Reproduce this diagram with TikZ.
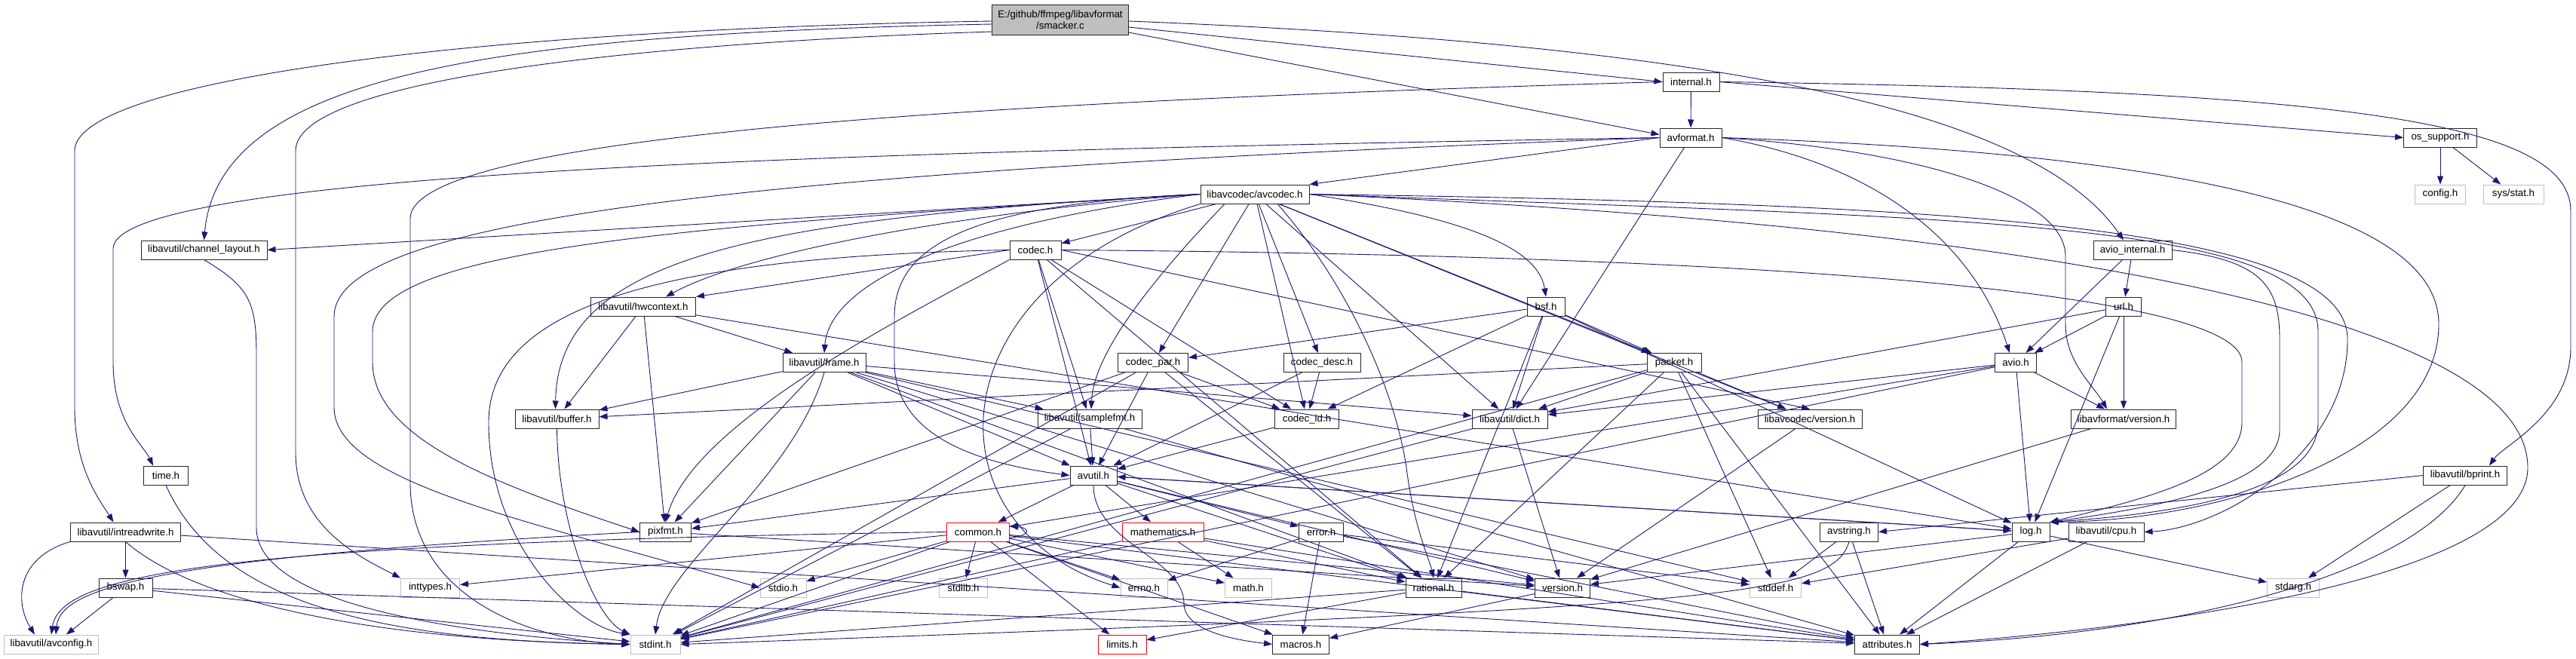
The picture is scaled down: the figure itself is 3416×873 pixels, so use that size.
\documentclass[tikz,border=0pt]{standalone}
\usepackage{fontspec}
\setmainfont{Liberation Sans}
\usepackage{tikz}
\usetikzlibrary{arrows.meta}
\usepackage{xcolor}
\definecolor{incEdge}{RGB}{25, 25, 112}
\definecolor{sysBox}{RGB}{191, 191, 191}
\definecolor{cutBox}{RGB}{255, 0, 0}

\begin{document}
\begin{tikzpicture}[
  x=1pt, y=-1pt,
  box/.style={draw, line width=1pt, minimum height=25pt, inner sep=0pt, font=\fontsize{13.3}{15}\selectfont},
  hdr/.style={box, draw=black!85},
  sys/.style={box, draw=sysBox},
  cut/.style={box, draw=cutBox},
  root/.style={box, draw=black!85, fill=sysBox, minimum height=40pt, align=center},
  inc/.style={->, line width=0.9pt, incEdge},
  >={Triangle[length=11pt, width=8pt]}
]
  \useasboundingbox[fill=white] (0,0) rectangle (3416,873);

  \node[root, minimum width=181pt] (smacker) at (1406,26) {E:/github/ffmpeg/libavformat\\/smacker.c};
  \node[hdr, minimum width=75pt] (internal) at (2242.5,108.5) {internal.h};
  \node[hdr, minimum width=82pt] (avformat) at (2242,182.5) {avformat.h};
  \node[hdr, minimum width=97pt] (ossupport) at (3236,182.5) {os\_support.h};
  \node[hdr, minimum width=144pt] (avcodec) at (1664,257.5) {libavcodec/avcodec.h};
  \node[sys, minimum width=67pt] (config) at (3236,257.5) {config.h};
  \node[sys, minimum width=80pt] (sysstat) at (3333,257.5) {sys/stat.h};
  \node[hdr, minimum width=167pt] (chlayout) at (270.5,331.5) {libavutil/channel\_layout.h};
  \node[hdr, minimum width=68pt] (codec) at (1373,331.5) {codec.h};
  \node[hdr, minimum width=104pt] (aviointernal) at (2828,331.5) {avio\_internal.h};
  \node[hdr, minimum width=139pt] (hwctx) at (853,406.5) {libavutil/hwcontext.h};
  \node[hdr, minimum width=50pt] (bsf) at (2050,406.5) {bsf.h};
  \node[hdr, minimum width=47pt] (url) at (2816,406.5) {url.h};
  \node[hdr, minimum width=110pt] (frame) at (1093,481) {libavutil/frame.h};
  \node[hdr, minimum width=93pt] (codecpar) at (1529,481) {codec\_par.h};
  \node[hdr, minimum width=102pt] (codecdesc) at (1753,481) {codec\_desc.h};
  \node[hdr, minimum width=72pt] (packet) at (2220,481) {packet.h};
  \node[hdr, minimum width=55pt] (avio) at (2673,481) {avio.h};
  \node[hdr, minimum width=111pt] (buffer) at (738.5,555.5) {libavutil/buffer.h};
  \node[hdr, minimum width=138pt] (samplefmt) at (1445,555.5) {libavutil/samplefmt.h};
  \node[hdr, minimum width=85pt] (codecid) at (1733,555.5) {codec\_id.h};
  \node[hdr, minimum width=100pt] (dict) at (2002,555.5) {libavutil/dict.h};
  \node[hdr, minimum width=138pt] (lavcversion) at (2400,555.5) {libavcodec/version.h};
  \node[hdr, minimum width=139pt] (lavfversion) at (2816,555.5) {libavformat/version.h};
  \node[hdr, minimum width=59pt] (timeh) at (220,630.5) {time.h};
  \node[hdr, minimum width=62pt] (avutil) at (1450,630.5) {avutil.h};
  \node[hdr, minimum width=111pt] (bprint) at (3269,630.5) {libavutil/bprint.h};
  \node[hdr, minimum width=146pt] (intrw) at (166.5,705.5) {libavutil/intreadwrite.h};
  \node[hdr, minimum width=68pt] (pixfmt) at (882.5,705.5) {pixfmt.h};
  \node[cut, minimum width=83pt] (common) at (1297,705.5) {common.h};
  \node[cut, minimum width=108pt] (mathematics) at (1542,705.5) {mathematics.h};
  \node[hdr, minimum width=59pt] (error) at (1752,705.5) {error.h};
  \node[hdr, minimum width=77pt] (avstring) at (2452,705.5) {avstring.h};
  \node[hdr, minimum width=50pt] (log) at (2693,705.5) {log.h};
  \node[hdr, minimum width=100pt] (cpu) at (2793,705.5) {libavutil/cpu.h};
  \node[hdr, minimum width=71pt] (bswap) at (166.5,779.5) {bswap.h};
  \node[sys, minimum width=78pt] (inttypes) at (570.5,779.5) {inttypes.h};
  \node[sys, minimum width=61pt] (stdio) at (1038.5,779.5) {stdio.h};
  \node[sys, minimum width=64pt] (stdlib) at (1277.5,779.5) {stdlib.h};
  \node[sys, minimum width=62pt] (errno) at (1517,779.5) {errno.h};
  \node[sys, minimum width=62pt] (math) at (1655.5,779.5) {math.h};
  \node[hdr, minimum width=74pt] (rational) at (1901,779.5) {rational.h};
  \node[hdr, minimum width=73pt] (version) at (2072,779.5) {version.h};
  \node[sys, minimum width=68pt] (stddef) at (2354.5,779.5) {stddef.h};
  \node[sys, minimum width=69pt] (stdarg) at (3041,779.5) {stdarg.h};
  \node[sys, minimum width=125pt] (avconfig) at (68,854.5) {libavutil/avconfig.h};
  \node[sys, minimum width=66pt] (stdint) at (869,854.5) {stdint.h};
  \node[cut, minimum width=64pt] (limits) at (1488,854.5) {limits.h};
  \node[hdr, minimum width=75pt] (macros) at (1725,854.5) {macros.h};
  \node[hdr, minimum width=86pt] (attributes) at (2502.5,854.5) {attributes.h};

  % smacker.c
  \draw[inc] ([yshift=-2pt]smacker.west) .. controls (600,40) and (99,110) .. (99,200) -- (99,540) .. controls (99,620) and (130,660) .. ([xshift=-16pt]intrw.north);
  \draw[inc] ([yshift=-6pt]smacker.west) .. controls (650,45) and (290,100) .. (chlayout.north);
  \draw[inc] ([yshift=-16pt]smacker.west) .. controls (900,55) and (392,100) .. (392,200) -- (392,600) .. controls (392,700) and (480,740) .. (inttypes.north west);
  \draw[inc] ([yshift=-10pt]smacker.east) -- (internal.west);
  \draw[inc] ([yshift=-17pt]smacker.east) -- ([yshift=4pt]avformat.west);
  \draw[inc] ([yshift=-2pt]smacker.east) .. controls (2300,60) and (2700,150) .. ([xshift=-12pt]aviointernal.north);

  % internal.h, avformat.h
  \draw[inc] (internal) -- (avformat);
  \draw[inc] (internal.east) -- (ossupport.west);
  \draw[inc] (internal.east) .. controls (3100,120) and (3409,160) .. (3409,280) -- (3409,460) .. controls (3409,550) and (3320,590) .. ([xshift=32pt]bprint.north);
  \draw[inc] (internal.west) .. controls (1300,135) and (544,180) .. (544,290) -- (544,640) .. controls (544,790) and (700,850) .. (stdint.west);
  \draw[inc] (avformat.west) -- (avcodec.north east);
  \draw[inc] (avformat.west) .. controls (1200,200) and (150,225) .. (150,330) -- (150,480) .. controls (150,560) and (190,590) .. ([xshift=-17pt]timeh.north);
  \draw[inc] (avformat.west) .. controls (900,230) and (443,300) .. (443,420) -- (443,540) .. controls (443,640) and (700,690) .. (stdio.west);
  \draw[inc] (avformat) -- (dict);
  \draw[inc] (avformat.east) .. controls (2800,200) and (3234,260) .. (3234,430) .. controls (3234,600) and (2950,690) .. (log.north east);
  \draw[inc] (avformat.east) .. controls (2500,220) and (2620,330) .. ([xshift=-8pt]avio.north);
  \draw[inc] (avformat.east) .. controls (2550,200) and (2739,260) .. (2739,340) -- (2739,430) .. controls (2739,480) and (2775,510) .. ([xshift=-22pt]lavfversion.north);
  \draw[inc] (ossupport) -- (config);
  \draw[inc] (ossupport) -- (sysstat);

  % libavcodec/avcodec.h
  \draw[inc] (avcodec.south west) .. controls (1230,380) and (1230,700) .. (errno.west);
  \draw[inc] ([xshift=-40pt]avcodec.south) .. controls (1500,400) and (1450,480) .. ([xshift=2pt]samplefmt.north);
  \draw[inc] (avcodec.east) .. controls (2700,300) and (3352,420) .. (3352,620) .. controls (3352,760) and (2900,830) .. (attributes.east);
  \draw[inc] (avcodec.west) .. controls (1300,270) and (1186,320) .. (1186,420) -- (1186,480) .. controls (1186,580) and (1300,615) .. (avutil.west);
  \draw[inc] (avcodec.west) .. controls (1000,290) and (740,340) .. ([xshift=-2pt]buffer.north);
  \draw[inc] (avcodec.east) .. controls (2600,270) and (3113,300) .. (3113,450) .. controls (3113,600) and (2950,700) .. (cpu.east);
  \draw[inc] (avcodec.west) -- (chlayout.east);
  \draw[inc] (avcodec) -- (dict);
  \draw[inc] (avcodec.west) .. controls (1250,300) and (1100,380) .. (frame.north);
  \draw[inc] (avcodec.west) .. controls (1300,280) and (1000,330) .. ([xshift=30pt]hwctx.north);
  \draw[inc] (avcodec.east) .. controls (2600,290) and (3074,290) .. (3074,440) -- (3074,560) .. controls (3074,650) and (2900,680) .. (log.north east);
  \draw[inc] (avcodec.west) .. controls (900,300) and (494,330) .. (494,440) -- (494,480) .. controls (494,580) and (650,640) .. (pixfmt.west);
  \draw[inc] ([xshift=30pt]avcodec.south) .. controls (1790,380) and (1850,520) .. (1865,620) .. controls (1875,700) and (1895,740) .. (rational.north);
  \draw[inc] (avcodec.east) .. controls (1950,290) and (2040,330) .. (bsf.north);
  \draw[inc] (avcodec) -- (codec);
  \draw[inc] (avcodec) -- (codecdesc);
  \draw[inc] (avcodec) -- (codecpar);
  \draw[inc] (avcodec) -- (codecid);
  \draw[inc] (avcodec) -- (packet);
  \draw[inc] (avcodec) -- (lavcversion);

  % codec.h and friends
  \draw[inc] (codec.west) .. controls (900,340) and (648,400) .. (648,560) .. controls (648,720) and (760,830) .. (stdint.north west);
  \draw[inc] (codec) -- (avutil);
  \draw[inc] (codec.west) -- (hwctx.north east);
  \draw[inc] (codec.east) .. controls (2500,340) and (2973,400) .. (2973,480) -- (2973,560) .. controls (2973,630) and (2850,660) .. (log.north east);
  \draw[inc] (codec.south west) .. controls (1200,420) and (920,560) .. (pixfmt.north);
  \draw[inc] (codec) -- (rational);
  \draw[inc] (codec) -- (samplefmt);
  \draw[inc] (codec) -- (codecid);
  \draw[inc] (codec.east) -- (lavcversion.north);
  \draw[inc] (codecdesc) -- (avutil);
  \draw[inc] (codecdesc) -- (codecid);
  \draw[inc] (codecid) -- (avutil);
  \draw[inc] (codecpar) -- (stdint);
  \draw[inc] (codecpar) -- (avutil);
  \draw[inc] (codecpar) -- (rational);
  \draw[inc] (codecpar) -- (pixfmt);
  \draw[inc] (codecpar) -- (codecid);
  \draw[inc] (packet) -- (stddef);
  \draw[inc] (packet) -- (stdint);
  \draw[inc] (packet) -- (attributes);
  \draw[inc] (packet) -- (buffer);
  \draw[inc] (packet) -- (dict);
  \draw[inc] (packet) -- (rational);
  \draw[inc] (packet) -- (lavcversion);
  \draw[inc] (bsf) -- (dict);
  \draw[inc] (bsf) -- (log);
  \draw[inc] (bsf) -- (rational);
  \draw[inc] (bsf) -- (codecid);
  \draw[inc] (bsf) -- (codecpar);
  \draw[inc] (bsf) -- (packet);
  \draw[inc] (lavcversion) -- (version);

  % avio, url, version, bprint
  \draw[inc] (avio) -- (stdint);
  \draw[inc] (avio) -- (common);
  \draw[inc] (avio) -- (dict);
  \draw[inc] (avio) -- (log);
  \draw[inc] (avio) -- (lavfversion);
  \draw[inc] (aviointernal) -- (avio);
  \draw[inc] (aviointernal) -- (url);
  \draw[inc] (aviointernal.east) .. controls (3000,345) and (3023,380) .. (3023,450) -- (3023,570) .. controls (3023,640) and (2880,670) .. (log.north east);
  \draw[inc] (url) -- (avio);
  \draw[inc] (url) -- (lavfversion);
  \draw[inc] (url) -- (dict);
  \draw[inc] (url) -- (log);
  \draw[inc] (lavfversion) -- (version);
  \draw[inc] (bprint) -- (stdarg);
  \draw[inc] (bprint.south) .. controls (3200,760) and (2900,840) .. (attributes.east);
  \draw[inc] (bprint.west) -- (avstring.east);
  \draw[inc] (avstring) -- (stddef);
  \draw[inc] (avstring.south) .. controls (2430,790) and (2300,805) .. (stdint.east);
  \draw[inc] (avstring) -- (attributes);
  \draw[inc] (log) -- (stdarg);
  \draw[inc] (log) -- (attributes);
  \draw[inc] (log) -- (version);
  \draw[inc] (log) -- (avutil);
  \draw[inc] (cpu) -- (attributes);
  \draw[inc] (cpu) -- (stddef);

  % libavutil/avutil.h and below
  \draw[inc] (avutil) -- (common);
  \draw[inc] (avutil) -- (error);
  \draw[inc] (avutil) -- (rational);
  \draw[inc] (avutil) -- (version);
  \draw[inc] (avutil.south) .. controls (1450,720) and (1570,740) .. (1570,800) .. controls (1570,840) and (1650,850) .. (macros.west);
  \draw[inc] (avutil) -- (mathematics);
  \draw[inc] (avutil) -- (log);
  \draw[inc] (avutil) -- (pixfmt);
  \draw[inc] ([yshift=-8pt]common.east) .. controls +(28,-3) and +(28,3) .. ([yshift=8pt]common.east);
  \draw[inc] (common) -- (errno);
  \draw[inc] (common) -- (inttypes);
  \draw[inc] (common) -- (limits);
  \draw[inc] (common) -- (math);
  \draw[inc] (common) -- (stdint);
  \draw[inc] (common) -- (stdio);
  \draw[inc] (common) -- (stdlib);
  \draw[inc] (common) -- (attributes);
  \draw[inc] (common) -- (macros);
  \draw[inc] (common) -- (version);
  \draw[inc] (common.west) .. controls (300,720) and (80,760) .. (avconfig.north);
  \draw[inc] (mathematics) -- (stdint);
  \draw[inc] (mathematics) -- (math);
  \draw[inc] (mathematics) -- (attributes);
  \draw[inc] (mathematics) -- (rational);
  \draw[inc] (error) -- (errno);
  \draw[inc] (error) -- (stddef);
  \draw[inc] (error) -- (attributes);
  \draw[inc] (error) -- (macros);
  \draw[inc] (rational) -- (stdint);
  \draw[inc] (rational) -- (limits);
  \draw[inc] (rational) -- (attributes);
  \draw[inc] (version) -- (macros);
  \draw[inc] (pixfmt.west) .. controls (200,740) and (80,780) .. ([xshift=6pt]avconfig.north);
  \draw[inc] (pixfmt) -- (version);
  \draw[inc] (samplefmt) -- (stdint);
  \draw[inc] (samplefmt) -- (avutil);
  \draw[inc] (samplefmt) -- (attributes);
  \draw[inc] (buffer.south) .. controls (740,700) and (790,820) .. (stdint.north west);
  \draw[inc] (dict) -- (stdint);
  \draw[inc] (dict) -- (version);
  \draw[inc] (frame) -- (stddef);
  \draw[inc] (frame.south) .. controls (1050,640) and (880,750) .. (stdint.north);
  \draw[inc] (frame) -- (avutil);
  \draw[inc] (frame) -- (buffer);
  \draw[inc] (frame) -- (dict);
  \draw[inc] (frame) -- (rational);
  \draw[inc] (frame) -- (samplefmt);
  \draw[inc] (frame) -- (pixfmt);
  \draw[inc] (frame) -- (version);
  \draw[inc] (hwctx) -- (buffer);
  \draw[inc] (hwctx) -- (frame);
  \draw[inc] (hwctx) -- (log);
  \draw[inc] (hwctx) -- (pixfmt);
  \draw[inc] (chlayout.south) .. controls (330,380) and (340,400) .. (340,470) -- (340,700) .. controls (340,800) and (600,840) .. (stdint.west);
  \draw[inc] (intrw.south) .. controls (260,800) and (500,850) .. (stdint.west);
  \draw[inc] (intrw.south west) .. controls (20,740) and (20,800) .. ([xshift=-22pt]avconfig.north);
  \draw[inc] (intrw) -- (attributes);
  \draw[inc] (intrw) -- (bswap);
  \draw[inc] (bswap) -- (stdint);
  \draw[inc] (bswap) -- ([xshift=20pt]avconfig.north);
  \draw[inc] (bswap) -- (attributes);
  \draw[inc] (timeh.south) .. controls (290,800) and (500,850) .. (stdint.west);
\end{tikzpicture}
\end{document}
